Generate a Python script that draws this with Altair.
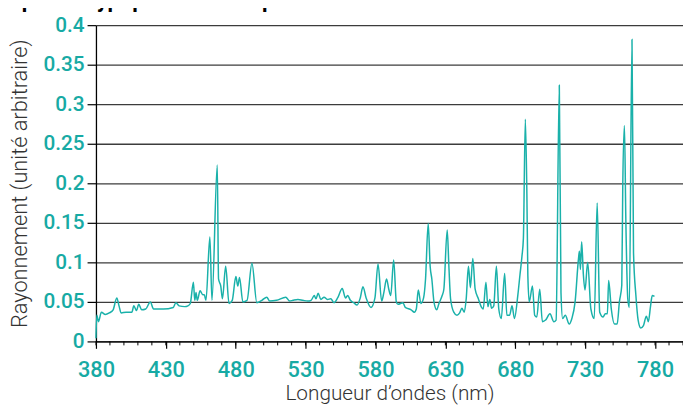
import altair as alt
import pandas as pd

TEAL_LINE = "#1ab1aa"
TEAL_TEXT = "#17aaa4"

wavelength = [
    380.0, 380.6, 381.8, 383.9, 386.7, 389.5, 392.3, 394.9, 396.5, 398.0,
    401.5, 405.7, 407.1, 409.0, 410.6, 412.7, 415.6, 418.9, 421.2, 428.2,
    435.3, 437.2, 439.5, 443.5, 445.8, 447.5, 449.7, 450.7, 451.6, 452.5,
    454.5, 456.4, 457.5, 458.7, 461.5, 463.0, 466.8, 467.7, 469.3, 470.5,
    472.8, 475.2, 477.5, 480.1, 481.5, 482.7, 485.1, 488.1, 491.6, 495.1,
    498.7, 502.2, 504.3, 509.2, 515.8, 518.6, 521.0, 524.5, 528.0, 531.5,
    533.9, 536.2, 537.4, 539.0, 540.9, 543.2, 545.6, 548.0, 550.3, 552.9,
    556.2, 558.5, 560.1, 562.0, 564.4, 566.8, 569.1, 571.0, 573.3, 576.8,
    579.6, 581.8, 584.4, 586.0, 587.9, 589.5, 590.9, 593.0, 594.9, 596.1,
    599.6, 601.3, 605.5, 607.8, 609.2, 610.6, 612.5, 614.4, 615.8, 617.7,
    619.1, 620.3, 621.9, 623.8, 625.4, 627.7, 628.9, 631.3, 632.5, 633.7,
    636.0, 638.3, 640.2, 641.8, 643.5, 644.9, 646.5, 647.9, 649.6, 651.3,
    653.6, 655.9, 657.1, 659.0, 660.4, 661.8, 663.0, 664.6, 666.5, 668.2,
    670.0, 672.4, 674.0, 675.9, 677.7, 679.4, 681.8, 683.4, 684.8, 685.8,
    687.2, 688.3, 689.0, 690.0, 692.3, 693.9, 695.4, 697.5, 699.4, 701.7,
    704.8, 707.6, 709.2, 711.5, 712.7, 713.9, 715.8, 718.6, 720.5, 722.8,
    725.2, 725.9, 726.6, 727.5, 728.7, 729.9, 731.8, 734.1, 736.5, 738.6,
    740.4, 742.8, 744.4, 745.9, 746.8, 748.7, 751.0, 752.9, 754.5, 756.2,
    756.9, 758.1, 759.1, 760.5, 761.6, 763.5, 764.6, 766.3, 767.9, 769.8,
    771.7, 773.8, 775.2, 776.8, 778.0, 779.6,
]

radiance = [
    0.004, 0.033, 0.025, 0.037, 0.034, 0.036, 0.040, 0.055, 0.045, 0.036,
    0.037, 0.037, 0.045, 0.039, 0.047, 0.040, 0.041, 0.050, 0.041, 0.041,
    0.043, 0.049, 0.045, 0.044, 0.045, 0.048, 0.075, 0.052, 0.062, 0.052,
    0.064, 0.059, 0.059, 0.052, 0.132, 0.052, 0.223, 0.079, 0.070, 0.054,
    0.095, 0.048, 0.052, 0.082, 0.070, 0.081, 0.050, 0.052, 0.099, 0.049,
    0.052, 0.056, 0.051, 0.052, 0.056, 0.051, 0.052, 0.053, 0.052, 0.051,
    0.052, 0.058, 0.054, 0.061, 0.053, 0.056, 0.053, 0.054, 0.049, 0.055,
    0.067, 0.055, 0.058, 0.052, 0.049, 0.046, 0.055, 0.069, 0.055, 0.043,
    0.055, 0.098, 0.051, 0.062, 0.079, 0.066, 0.058, 0.103, 0.050, 0.047,
    0.049, 0.043, 0.040, 0.037, 0.041, 0.065, 0.048, 0.055, 0.079, 0.149,
    0.095, 0.079, 0.049, 0.040, 0.048, 0.058, 0.066, 0.141, 0.095, 0.054,
    0.037, 0.033, 0.036, 0.042, 0.037, 0.054, 0.095, 0.068, 0.105, 0.066,
    0.054, 0.043, 0.041, 0.075, 0.044, 0.053, 0.042, 0.045, 0.095, 0.041,
    0.029, 0.086, 0.033, 0.033, 0.045, 0.029, 0.058, 0.085, 0.108, 0.130,
    0.281, 0.187, 0.083, 0.050, 0.070, 0.033, 0.031, 0.066, 0.025, 0.027,
    0.035, 0.025, 0.027, 0.324, 0.062, 0.029, 0.033, 0.022, 0.029, 0.050,
    0.104, 0.114, 0.091, 0.126, 0.085, 0.065, 0.100, 0.041, 0.029, 0.175,
    0.037, 0.031, 0.035, 0.035, 0.077, 0.041, 0.022, 0.022, 0.050, 0.071,
    0.196, 0.273, 0.154, 0.054, 0.043, 0.382, 0.112, 0.058, 0.027, 0.017,
    0.020, 0.032, 0.025, 0.045, 0.058, 0.057,
]

x_major = [380, 430, 480, 530, 580, 630, 680, 730, 780]
x_minor = list(range(380, 801, 10))
y_ticks = [0, 0.05, 0.1, 0.15, 0.2, 0.25, 0.3, 0.35, 0.4]

df = pd.DataFrame({"wl": wavelength, "rad": radiance})
df_minor = pd.DataFrame({"wl": x_minor})

FONT = "Roboto"
x_scale = alt.Scale(domain=[380, 800], nice=False, zero=False)
y_scale = alt.Scale(domain=[0, 0.4], nice=False)

x_axis = alt.Axis(
    values=x_major,
    title="Longueur d’ondes (nm)",
    grid=False,
    domainColor="black",
    domainWidth=1.3,
    tickColor="black",
    tickWidth=1.2,
    tickSize=7,
    labelColor=TEAL_TEXT,
    labelFont=FONT,
    labelFontSize=22,
    labelFontWeight=500,
    labelPadding=11,
    labelFlush=False,
    titleFont=FONT,
    titleFontSize=21,
    titleFontWeight=300,
    titleColor="#333333",
    titlePadding=3,
)

y_axis = alt.Axis(
    values=y_ticks,
    format="~g",
    title="Rayonnement (unité arbitraire)",
    grid=True,
    gridColor="#3c3c3c",
    gridWidth=1.3,
    domainColor="black",
    domainWidth=1.3,
    tickColor="black",
    tickWidth=1.2,
    tickSize=9,
    labelColor=TEAL_TEXT,
    labelFont=FONT,
    labelFontSize=21,
    labelFontWeight=500,
    labelPadding=3,
    labelFlush=False,
    titleFont=FONT,
    titleFontSize=22,
    titleFontWeight=300,
    titleColor="#333333",
    titlePadding=12,
)

line = alt.Chart(df).mark_line(
    color=TEAL_LINE, strokeWidth=1.5, interpolate="monotone"
).encode(
    x=alt.X("wl:Q", scale=x_scale, axis=x_axis),
    y=alt.Y("rad:Q", scale=y_scale, axis=y_axis),
)

minor = alt.Chart(df_minor).mark_rule(color="black", strokeWidth=1).encode(
    x=alt.X("wl:Q", scale=x_scale, axis=x_axis),
    y=alt.value(320),
    y2=alt.value(324),
)

chart = (
    alt.layer(line, minor)
    .properties(
        width=594,
        height=320,
        autosize=alt.AutoSizeParams(type="none"),
        padding={"left": 89, "top": 15, "right": 0, "bottom": 65},
        title=alt.TitleParams(
            text="Spectre typique d’une lampe",
            anchor="start",
            frame="bounds",
            font=FONT,
            fontSize=22,
            fontWeight="bold",
            color="black",
            offset=2,
        ),
    )
    .configure_view(stroke=None)
)

chart.save("out.html", embed_options={"renderer": "svg", "actions": False})
